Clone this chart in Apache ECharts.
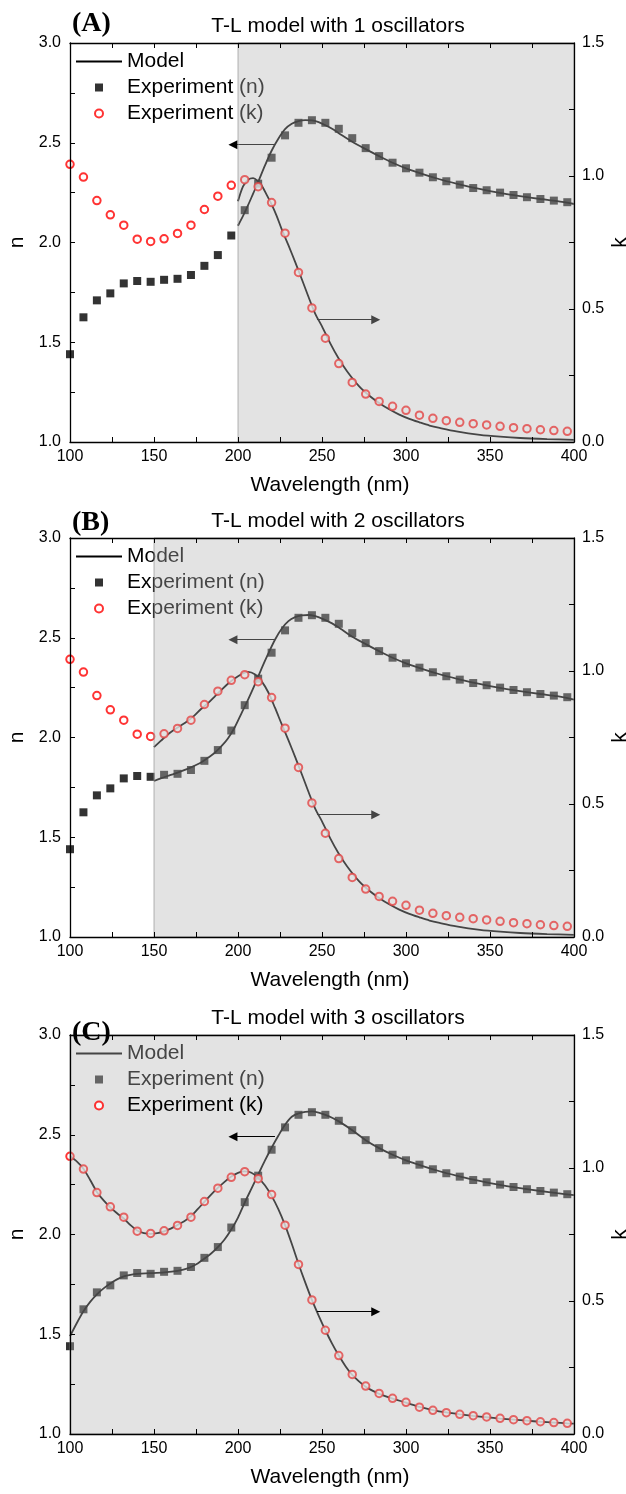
<!DOCTYPE html>
<html>
<head>
<meta charset="utf-8">
<script src="https://cdn.jsdelivr.net/npm/echarts@6/dist/echarts.min.js"></script>
<style>
  html, body { margin: 0; padding: 0; background: #fff; }
  #chart { width: 626px; height: 1494px; }
</style>
</head>
<body>
<div id="chart"></div>
<script>
// measured points (same film in all three panels), one every 8 nm
const wavelength = [100, 108, 116, 124, 132, 140, 148, 156, 164, 172, 180, 188, 196,
  204, 212, 220, 228, 236, 244, 252, 260, 268, 276, 284, 292, 300, 308, 316, 324,
  332, 340, 348, 356, 364, 372, 380, 388, 396];
const nExp = [1.44, 1.625, 1.71, 1.745, 1.795, 1.807, 1.803, 1.813, 1.818, 1.837, 1.883, 1.937, 2.035,
  2.162, 2.295, 2.425, 2.537, 2.60, 2.613, 2.60, 2.57, 2.523, 2.473, 2.433, 2.40, 2.372, 2.35, 2.327, 2.307,
  2.29, 2.273, 2.262, 2.25, 2.238, 2.227, 2.218, 2.21, 2.202];
const kExp = [1.044, 0.996, 0.9075, 0.854, 0.815, 0.7625, 0.754, 0.764, 0.784, 0.815, 0.874, 0.924, 0.965,
  0.986, 0.96, 0.90, 0.785, 0.6375, 0.504, 0.39, 0.295, 0.224, 0.18, 0.1525, 0.134, 0.119, 0.101, 0.089, 0.08,
  0.074, 0.069, 0.064, 0.059, 0.054, 0.05, 0.046, 0.043, 0.04];

// model curves read off the fits
// (A) 1 oscillator, fitted 200-400 nm
const modelA_nWl = [200, 203, 206, 209, 212, 216, 220, 224, 228, 232, 236, 240, 244, 248, 252, 256, 260,
  268, 276, 284, 292, 300, 310, 320, 330, 340, 350, 360, 370, 380, 390, 400];
const modelA_n = [2.084, 2.133, 2.187, 2.245, 2.303, 2.385, 2.46, 2.52, 2.568, 2.595, 2.608, 2.613, 2.612, 2.603, 2.588, 2.57, 2.548,
  2.505, 2.468, 2.433, 2.40, 2.372, 2.343, 2.317, 2.295, 2.275, 2.258, 2.243, 2.23, 2.218, 2.207, 2.193];
const modelA_kWl = [200, 203, 206, 209, 212, 214, 217, 220, 223, 226, 230, 234, 238, 242, 246, 250, 255,
  260, 265, 272, 278, 284, 290, 296, 302, 308, 314, 320, 330, 344, 356, 368, 384, 400];
const modelA_k = [0.905, 0.961, 0.986, 0.992, 0.98, 0.965, 0.93, 0.893, 0.85, 0.80, 0.74, 0.677, 0.612, 0.545, 0.482, 0.435, 0.37,
  0.313, 0.265, 0.21, 0.175, 0.147, 0.123, 0.103, 0.087, 0.074, 0.062, 0.053, 0.04, 0.027, 0.02, 0.015, 0.011, 0.008];

// (B) 2 oscillators, fitted 150-400 nm
const modelB_nWl = [150, 154, 158, 162, 166, 170, 174, 178, 182, 186, 190, 194, 198, 202, 206, 210, 214,
  218, 222, 226, 230, 234, 238, 242, 246, 250, 256, 262, 268, 276, 284, 292, 300, 310, 320, 330, 340,
  350, 360, 370, 380, 390, 400];
const modelB_n = [1.782, 1.795, 1.807, 1.818, 1.83, 1.843, 1.858, 1.875, 1.898, 1.922, 1.955, 1.995, 2.05, 2.12, 2.19, 2.265, 2.345,
  2.42, 2.49, 2.545, 2.583, 2.603, 2.612, 2.614, 2.608, 2.596, 2.572, 2.54, 2.505, 2.468, 2.433, 2.40, 2.372, 2.343, 2.317, 2.295, 2.275,
  2.258, 2.243, 2.23, 2.218, 2.207, 2.19];
const modelB_kWl = [150, 154, 158, 162, 166, 170, 174, 178, 182, 186, 190, 194, 198, 202, 206, 210, 214,
  218, 222, 226, 230, 234, 238, 242, 246, 250, 255, 260, 265, 272, 278, 284, 290, 296, 302, 308, 314,
  320, 330, 344, 356, 368, 384, 400];
const modelB_k = [0.714, 0.737, 0.76, 0.779, 0.795, 0.812, 0.832, 0.857, 0.878, 0.903, 0.928, 0.952, 0.972, 0.988, 0.997, 0.988, 0.962,
  0.92, 0.862, 0.80, 0.74, 0.677, 0.612, 0.545, 0.482, 0.435, 0.37, 0.313, 0.265, 0.21, 0.175, 0.147, 0.123, 0.103, 0.087, 0.074, 0.062,
  0.053, 0.04, 0.027, 0.02, 0.015, 0.011, 0.008];

// (C) 3 oscillators, fitted 100-400 nm
const modelC_nWl = [100, 104, 108, 112, 116, 120, 124, 128, 132, 136, 140, 148, 156, 164, 170, 176, 180,
  184, 188, 192, 196, 200, 204, 208, 212, 216, 220, 224, 228, 232, 236, 240, 244, 248, 252, 256, 260,
  268, 276, 284, 292, 300, 310, 320, 330, 340, 350, 360, 370, 380, 390, 400];
const modelC_n = [1.49, 1.555, 1.615, 1.662, 1.70, 1.73, 1.755, 1.775, 1.79, 1.798, 1.803, 1.806, 1.81, 1.818, 1.83, 1.855, 1.88,
  1.905, 1.937, 1.975, 2.025, 2.085, 2.16, 2.23, 2.30, 2.37, 2.435, 2.495, 2.55, 2.59, 2.607, 2.615, 2.617, 2.611, 2.60, 2.585, 2.567,
  2.523, 2.473, 2.433, 2.40, 2.372, 2.343, 2.317, 2.295, 2.275, 2.258, 2.243, 2.23, 2.218, 2.207, 2.197];
const modelC_kWl = [100, 104, 108, 112, 116, 120, 124, 128, 132, 136, 140, 144, 148, 152, 156, 160, 164,
  168, 172, 176, 180, 184, 188, 192, 196, 200, 204, 208, 212, 216, 220, 224, 228, 232, 236, 240, 244,
  248, 252, 256, 260, 264, 268, 272, 276, 280, 284, 292, 300, 308, 316, 324, 332, 340, 348, 356, 364,
  372, 380, 388, 396, 400];
const modelC_k = [1.044, 1.025, 0.997, 0.955, 0.91, 0.878, 0.852, 0.83, 0.81, 0.785, 0.765, 0.755, 0.752, 0.755, 0.762, 0.772, 0.786,
  0.80, 0.818, 0.845, 0.873, 0.90, 0.925, 0.948, 0.968, 0.982, 0.987, 0.982, 0.963, 0.935, 0.895, 0.845, 0.785, 0.715, 0.64, 0.57, 0.504,
  0.445, 0.39, 0.34, 0.295, 0.255, 0.222, 0.198, 0.178, 0.163, 0.151, 0.133, 0.118, 0.102, 0.09, 0.081, 0.074, 0.068, 0.063, 0.058, 0.054,
  0.05, 0.046, 0.043, 0.04, 0.039];

// arrows pointing to the axis each curve belongs to: [from, to, level]
const nArrow = [222, 197, 2.49];
const kArrow = [247, 282, 0.46];

const SANS = 'Liberation Sans, Arial, sans-serif';
const SERIF = 'Liberation Serif, Times New Roman, serif';
const SHADED = '#454545'; // black seen through the grey fit-range overlay

const panels = [
  { tag: '(A)', title: 'T-L model with 1 oscillators', top: 43, tagTop: 10, fitFrom: 200,
    nWl: modelA_nWl, n: modelA_n, kWl: modelA_kWl, k: modelA_k, onTop: false },
  { tag: '(B)', title: 'T-L model with 2 oscillators', top: 538, tagTop: 509, fitFrom: 150,
    nWl: modelB_nWl, n: modelB_n, kWl: modelB_kWl, k: modelB_k, onTop: false },
  { tag: '(C)', title: 'T-L model with 3 oscillators', top: 1035, tagTop: 1019, fitFrom: 100,
    nWl: modelC_nWl, n: modelC_n, kWl: modelC_kWl, k: modelC_k, onTop: true }
];

const zip = (xs, ys) => xs.map((x, i) => [x, ys[i]]);

const axisLine = { onZero: false, lineStyle: { color: '#000', width: 1.3 } };
const axisTick = { inside: true, length: 5, lineStyle: { color: '#000', width: 1 } };
const tickFont = { color: '#000', fontSize: 16, fontFamily: SANS };
const nameFont = { color: '#000', fontSize: 21, fontFamily: SANS };

const grid = [], xAxis = [], yAxis = [], series = [], title = [], legend = [];

panels.forEach((p, i) => {
  grid.push({ left: 70, width: 504, top: p.top, height: 399, outerBoundsMode: 'none', containLabel: false });

  xAxis.push({
    gridIndex: i, type: 'value', min: 100, max: 400, interval: 25, position: 'bottom', z: 4,
    name: 'Wavelength (nm)', nameLocation: 'middle', nameGap: 33, nameMoveOverlap: false,
    nameTextStyle: Object.assign({ padding: [0, 0, 0, 16] }, nameFont),
    axisLine: axisLine, axisTick: axisTick, splitLine: { show: false },
    axisLabel: Object.assign({ margin: 7, formatter: v => (v % 50 === 0 ? String(v) : '') }, tickFont)
  });
  xAxis.push({
    gridIndex: i, type: 'value', min: 100, max: 400, interval: 25, position: 'top', z: 4,
    axisLine: axisLine, axisTick: axisTick, axisLabel: { show: false }, splitLine: { show: false }
  });
  yAxis.push({
    gridIndex: i, type: 'value', min: 1, max: 3, interval: 0.25, position: 'left', z: 4,
    name: 'n', nameLocation: 'middle', nameGap: 42, nameRotate: 90, nameMoveOverlap: false,
    nameTextStyle: nameFont,
    axisLine: axisLine, axisTick: axisTick, splitLine: { show: false },
    axisLabel: Object.assign({ margin: 9, formatter: v => ((v * 2) % 1 === 0 ? v.toFixed(1) : '') }, tickFont)
  });
  yAxis.push({
    gridIndex: i, type: 'value', min: 0, max: 1.5, interval: 0.25, position: 'right', z: 4,
    name: 'k', nameLocation: 'middle', nameGap: 36, nameRotate: 90, nameMoveOverlap: false,
    nameTextStyle: nameFont,
    axisLine: axisLine, axisTick: axisTick, splitLine: { show: false },
    axisLabel: Object.assign({ margin: 8, formatter: v => ((v * 2) % 1 === 0 ? v.toFixed(1) : '') }, tickFont)
  });

  const xi = 2 * i, ni = 2 * i, ki = 2 * i + 1;
  const arrowLine = (a) => ({
    silent: true, z: p.onTop ? 6 : 2, symbol: ['none', 'triangle'], symbolSize: 9,
    label: { show: false }, emphasis: { disabled: true },
    lineStyle: { color: '#000', width: 1, type: 'solid' },
    data: [[{ coord: [a[0], a[2]] }, { coord: [a[1], a[2]] }]]
  });

  series.push({
    type: 'line', name: 'Model', xAxisIndex: xi, yAxisIndex: ni, data: zip(p.nWl, p.n),
    symbol: 'none', smooth: 0.3, lineStyle: { color: '#000', width: 1.8 }, itemStyle: { color: '#000' }, z: 2
  });
  series.push({
    type: 'line', name: 'Model', xAxisIndex: xi, yAxisIndex: ki, data: zip(p.kWl, p.k),
    symbol: 'none', smooth: 0.3, lineStyle: { color: '#000', width: 1.8 }, itemStyle: { color: '#000' }, z: 2
  });
  series.push({
    type: 'scatter', name: 'Experiment (n)', xAxisIndex: xi, yAxisIndex: ni, data: zip(wavelength, nExp),
    symbol: 'rect', symbolSize: 8, itemStyle: { color: '#000' }, z: 2,
    markArea: {
      silent: true, z: 3,
      itemStyle: { color: 'rgba(182,182,182,0.38)', borderColor: 'rgba(150,150,150,0.7)', borderWidth: 1 },
      data: [[{ xAxis: p.fitFrom }, { xAxis: 400 }]]
    },
    markLine: arrowLine(nArrow)
  });
  series.push({
    type: 'scatter', name: 'Experiment (k)', xAxisIndex: xi, yAxisIndex: ki, data: zip(wavelength, kExp),
    symbol: 'emptyCircle', symbolSize: 7.5, itemStyle: { color: '#ff0000', borderWidth: 1.7 }, z: 2,
    markLine: arrowLine(kArrow)
  });

  title.push({
    text: p.tag, left: 72, top: p.tagTop, padding: 0, z: 8,
    textStyle: { fontFamily: SERIF, fontWeight: 'bold', fontSize: 28, color: '#000' }
  });
  title.push({
    text: p.title, left: 338, textAlign: 'center', top: p.top - 27, padding: 0,
    textStyle: { fontFamily: SANS, fontWeight: 'normal', fontSize: 21, color: '#000' }
  });

  // in (C) the legend sits above the overlay; its first two rows are greyed like the overlay does
  const dim = p.onTop ? { itemStyle: { color: SHADED }, textStyle: { color: SHADED } } : {};
  legend.push({
    orient: 'vertical', left: 76, align: 'left', top: p.top + 8, padding: 0,
    itemWidth: 46, itemHeight: 8, itemGap: 5, z: p.onTop ? 6 : 2, selectedMode: false,
    textStyle: { fontFamily: SANS, fontSize: 21, color: '#000', lineHeight: 19 },
    data: [
      Object.assign({ name: 'Model', icon: 'path://M0,0H46V1.8H0Z' }, dim),
      Object.assign({ name: 'Experiment (n)', icon: 'path://M0,0H8V8H0Z' }, dim),
      { name: 'Experiment (k)' }
    ]
  });
});

const chart = echarts.init(document.getElementById('chart'), null, { renderer: 'canvas' });
chart.setOption({
  backgroundColor: '#fff',
  animation: false,
  title: title,
  legend: legend,
  grid: grid,
  xAxis: xAxis,
  yAxis: yAxis,
  series: series
});
</script>
</body>
</html>
